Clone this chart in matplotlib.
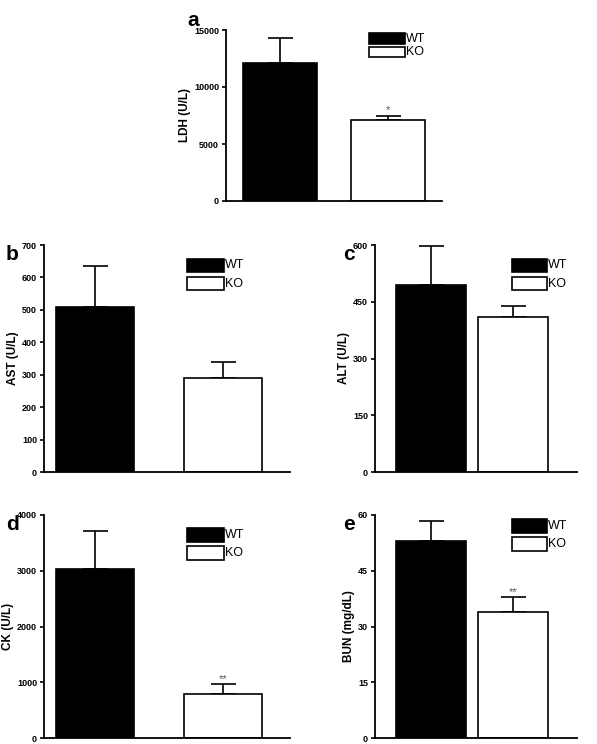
import matplotlib
matplotlib.use("Agg")
import matplotlib.pyplot as plt
from matplotlib.patches import Rectangle

plt.rcParams['font.family'] = ['Liberation Sans', 'DejaVu Sans']

groups = ["WT", "KO"]
panels = ["a", "b", "c", "d", "e"]
ylabels = ["LDH (U/L)", "AST (U/L)", "ALT (U/L)", "CK (U/L)", "BUN (mg/dL)"]
means = {"a": [12100, 7100], "b": [510, 290], "c": [495, 410], "d": [3030, 790], "e": [53, 34]}
errs = {"a": [2200, 400], "b": [125, 48], "c": [103, 30], "d": [690, 180], "e": [5.5, 4]}
yticks = {"a": [0, 5000, 10000, 15000], "b": [0, 100, 200, 300, 400, 500, 600, 700],
          "c": [0, 150, 300, 450, 600], "d": [0, 1000, 2000, 3000, 4000], "e": [0, 15, 30, 45, 60]}
stars = {"a": "*", "b": "", "c": "", "d": "**", "e": "**"}

W, H = 597, 744
boxes = {"a": (226, 442, 30, 201), "b": (44, 290, 245, 472), "c": (375, 577, 245, 472),
         "d": (44, 290, 515, 738), "e": (375, 577, 515, 738)}
xl = {"a": (-0.5, 1.5, 0.68), "b": (-0.4, 1.52, 0.61), "c": (-0.68, 1.78, 0.85),
      "d": (-0.4, 1.52, 0.61), "e": (-0.68, 1.78, 0.85)}
leg = {"a": (0.66, 0.92), "b": (0.58, 0.88), "c": (0.68, 0.88), "d": (0.58, 0.88), "e": (0.68, 0.92)}
letters = {"a": (187, 20), "b": (6, 255), "c": (343, 255), "d": (6, 525), "e": (343, 525)}

fig = plt.figure(figsize=(W/100, H/100), dpi=100)
for p, yl in zip(panels, ylabels):
    l, r, t, b = boxes[p]
    ax = fig.add_axes([l/W, 1-b/H, (r-l)/W, (b-t)/H])
    x0, x1, w = xl[p]
    ax.bar([0, 1], means[p], width=w, color=["black", "white"], edgecolor="black", linewidth=1.2, zorder=2)
    for i in range(2):
        ax.errorbar(i, means[p][i], yerr=[[0], [errs[p][i]]], color="black", capsize=9, elinewidth=1.2, capthick=1.2, zorder=1)
    if stars[p]:
        ax.text(1, means[p][1]+errs[p][1], stars[p], ha="center", va="bottom", fontsize=8, color="#555555")
    ax.set_xlim(x0, x1)
    ax.set_ylim(0, yticks[p][-1])
    ax.set_yticks(yticks[p])
    ax.set_xticks([])
    for s in ["top", "right"]:
        ax.spines[s].set_visible(False)
    ax.spines["left"].set_linewidth(1.3)
    ax.spines["bottom"].set_linewidth(1.3)
    ax.tick_params(axis="y", labelsize=6.5, width=1.2, length=3, pad=2)
    for lab in ax.get_yticklabels():
        lab.set_fontweight("bold")
    ax.set_ylabel(yl, fontsize=8.5, fontweight="bold", labelpad=2)
    fx, fy = letters[p]
    fig.text(fx/W, 1-fy/H, p, fontsize=15, fontweight="bold", ha="left", va="center")
    lx, ly = leg[p]
    for k, (g, c) in enumerate(zip(groups, ["black", "white"])):
        yy = ly - k*0.08
        ax.add_patch(Rectangle((lx, yy), 0.15 if p in "bd" else 0.17, 0.06, transform=ax.transAxes,
                               facecolor=c, edgecolor="black", linewidth=1.2, clip_on=False))
        ax.text(lx + (0.155 if p in "bd" else 0.175), yy+0.03, g, transform=ax.transAxes, fontsize=9, va="center", ha="left")
fig.savefig("out.png", dpi=100)
